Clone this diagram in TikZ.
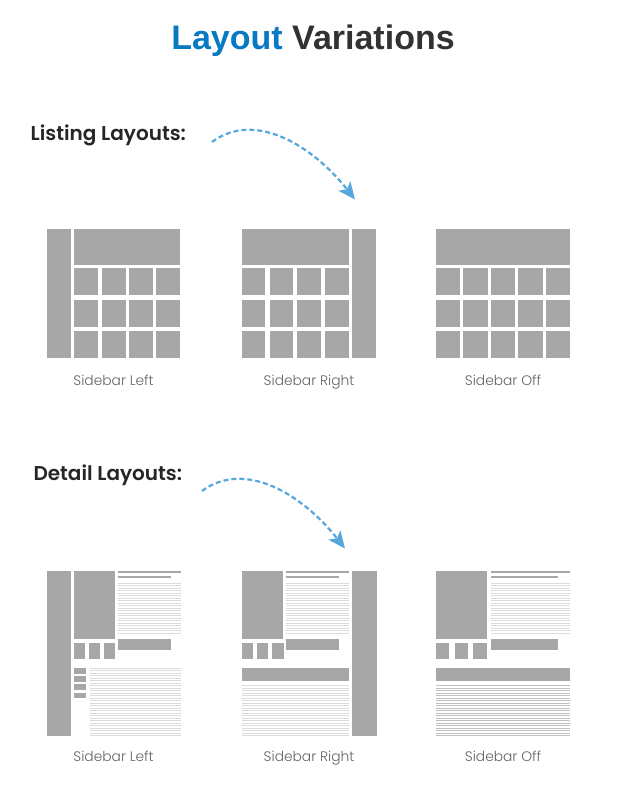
\documentclass[tikz,border=0pt]{standalone}
\usepackage{fontspec}
\setmainfont{Poppins}
\newfontfamily\headfont{Poppins SemiBold}
\newfontfamily\capfont{Poppins Light}
\newfontfamily\titlefont{Liberation Sans}
\usepackage{tikz}
\usetikzlibrary{arrows.meta}
\definecolor{TitleBlue}{RGB}{8,122,196}
\definecolor{TitleDark}{RGB}{50,50,50}
\definecolor{BlockGray}{RGB}{167,167,167}
\definecolor{RuleGray}{RGB}{220,220,220}
\definecolor{RuleDark}{RGB}{192,192,192}
\definecolor{ArrowBlue}{RGB}{86,167,219}
\definecolor{CaptionGray}{RGB}{100,100,100}
\definecolor{HeadDark}{RGB}{38,38,38}

% text lines of a mock page: x from, x to, y top, count, style
\newcommand{\mocklines}[5]{%
  \foreach \i in {1,...,#4}
    \draw[#5] (#1,{#3+(\i-1)*2.5}) -- (#2,{#3+(\i-1)*2.5});}

\begin{document}
\begin{tikzpicture}[x=1pt,y=-1pt,
  blk/.style={fill=BlockGray},
  rule/.style={draw=RuleGray,line width=1pt},
  darkrule/.style={draw=RuleDark,line width=1pt},
  head/.style={font=\headfont\fontsize{20}{24}\selectfont,text=HeadDark,
               anchor=base west,inner sep=0pt},
  capt/.style={font=\capfont\fontsize{13.8}{16}\selectfont,text=CaptionGray,
              anchor=base,inner sep=0pt},
  hint/.style={draw=ArrowBlue,line width=2.2pt,dash pattern=on 5pt off 3pt,
               -{Stealth[length=17pt,width=15pt,inset=4pt]}},
]
\useasboundingbox (0,0) rectangle (616,800);
\fill[white] (0,0) rectangle (616,800);

\node[font=\titlefont\bfseries\fontsize{34}{40}\selectfont,text=TitleDark,
      anchor=base,inner sep=0pt] (title) at (313,49.5)
  {\textcolor{TitleBlue}{Layout} Variations};

% listing layouts
\node[head] (listhead) at (30.5,140.7) {Listing Layouts:};
\coordinate (listfrom) at (212,142);
\coordinate (listto) at (355,199.5);
\draw[hint] (listfrom) .. controls (255,110) and (313,146) .. (listto);

% sidebar left
\fill[blk] (46.7,229) rectangle (70.7,358);
\fill[blk] (74.3,229) rectangle (180.3,264.5);
\foreach \c in {0,...,3}
  \foreach \r in {0,...,2}
    \fill[blk] ({74.3+27.3*\c},{268.3+31.3*\r}) rectangle +(24,27);
\node[capt] (capLL) at (113.5,385) {Sidebar Left};

% sidebar right
\fill[blk] (241.7,229) rectangle (348.5,264.5);
\fill[blk] (352.3,229) rectangle (376.3,358);
\foreach \c in {0,...,3}
  \foreach \r in {0,...,2}
    \fill[blk] ({241.7+27.8*\c},{268.3+31.3*\r}) rectangle +(23.4,27);
\node[capt] (capLR) at (309,385) {Sidebar Right};

% sidebar off
\fill[blk] (436,229) rectangle (570,264.5);
\foreach \c in {0,...,4}
  \foreach \r in {0,...,2}
    \fill[blk] ({436+27.4*\c},{268.3+31.3*\r}) rectangle +(24.4,27);
\node[capt] (capLO) at (503,385) {Sidebar Off};

% detail layouts
\node[head] (detailhead) at (33.3,480.7) {Detail Layouts:};
\coordinate (detailfrom) at (202,491);
\coordinate (detailto) at (345,548.5);
\draw[hint] (detailfrom) .. controls (245,459) and (303,495) .. (detailto);

% sidebar left
\fill[blk] (46.7,571) rectangle (70.7,735.7);
\fill[blk] (74.3,571) rectangle (114.7,639);
\foreach \c in {0,1,2}
  \fill[blk] ({74.3+15*\c},643.3) rectangle +(10.7,15.4);
\fill[blk] (117.7,571) rectangle (181.3,573.3);
\fill[blk] (117.7,576) rectangle (171,578);
\mocklines{117.7}{181.3}{583}{21}{rule}
\fill[blk] (117.7,639) rectangle (171,650.3);
\foreach \r in {0,...,3}
  \fill[blk] (74.3,{667.7+8.3*\r}) rectangle +(11.2,5.8);
\mocklines{90}{181.3}{668}{28}{rule}
\node[capt] (capDL) at (113.5,761) {Sidebar Left};

% sidebar right
\fill[blk] (241.7,571) rectangle (283.3,639);
\foreach \c in {0,1,2}
  \fill[blk] ({241.7+15.3*\c},643.3) rectangle +(11.3,15.4);
\fill[blk] (286,571) rectangle (349,573.3);
\fill[blk] (286,576) rectangle (339.3,578);
\mocklines{286}{349}{583}{21}{rule}
\fill[blk] (286,639) rectangle (339.3,650.3);
\fill[blk] (352.3,571) rectangle (377,735.7);
\fill[blk] (241.7,668.3) rectangle (349,681);
\mocklines{241.7}{349}{685.5}{21}{rule}
\node[capt] (capDR) at (309,761) {Sidebar Right};

% sidebar off
\fill[blk] (436,571) rectangle (487.3,639);
\foreach \c in {0,1,2}
  \fill[blk] ({436+18.65*\c},643.3) rectangle +(13.3,15.4);
\fill[blk] (490.7,571) rectangle (570,573.3);
\fill[blk] (490.7,576) rectangle (557.7,578);
\mocklines{490.7}{570}{583}{21}{rule}
\fill[blk] (490.7,639) rectangle (557.7,650.3);
\fill[blk] (436,668.3) rectangle (570,681);
\mocklines{436}{570}{685.5}{21}{darkrule}
\node[capt] (capDO) at (503,761) {Sidebar Off};
\end{tikzpicture}
\end{document}
